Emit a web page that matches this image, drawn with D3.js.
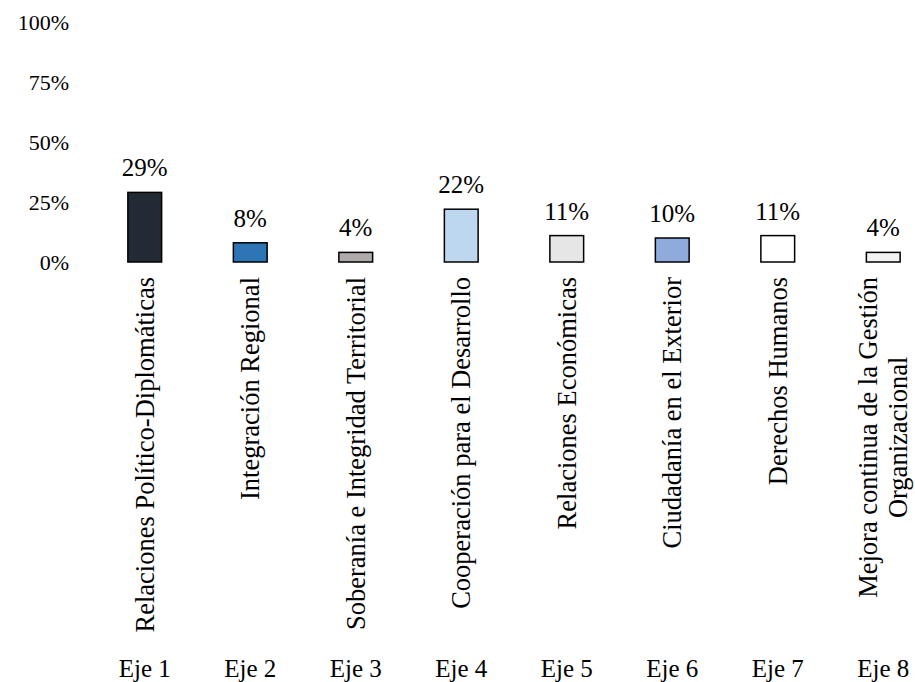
<!DOCTYPE html>
<html>
<head>
<meta charset="utf-8">
<script src="https://cdn.jsdelivr.net/npm/d3@7"></script>
<style>
  body { margin: 0; background: #fff; }
</style>
</head>
<body>
<div class="chart"></div>
<script>
const ejes = ["Eje 1", "Eje 2", "Eje 3", "Eje 4", "Eje 5", "Eje 6", "Eje 7", "Eje 8"];
const nombres = [
  ["Relaciones Político-Diplomáticas"],
  ["Integración Regional"],
  ["Soberanía e Integridad Territorial"],
  ["Cooperación para el Desarrollo"],
  ["Relaciones Económicas"],
  ["Ciudadanía en el Exterior"],
  ["Derechos Humanos"],
  ["Mejora continua de la Gestión", "Organizacional"]
];
const valores = [29, 8, 4, 22, 11, 10, 11, 4];
const colores = ["#222a35", "#2e75b6", "#aeaaaa", "#bdd7ee", "#e7e6e6", "#8faadc", "#ffffff", "#f2f2f2"];
const yTicks = [0, 25, 50, 75, 100];

const w = 915;
const h = 682;
const serif = '"Liberation Serif", "Times New Roman", serif';

const svg = d3.select(".chart")
  .append("svg")
  .attr("width", w)
  .attr("height", h);

const x = d3.scaleBand()
  .domain(ejes)
  .range([92, 936])
  .paddingInner(0.68)
  .paddingOuter(0.34);

const y = d3.scaleLinear()
  .domain([0, 100])
  .range([262, 22]);

// y axis labels, no line
const yAxis = svg.append("g")
  .attr("transform", "translate(69,0)")
  .call(d3.axisLeft(y).tickValues(yTicks).tickFormat(d => d + "%").tickSize(0).tickPadding(0));
yAxis.attr("font-family", null).attr("font-size", null);
yAxis.select(".domain").remove();
yAxis.selectAll("text")
  .style("font-family", serif)
  .style("font-size", "22px")
  .attr("fill", "#000");

// bars
svg.selectAll("rect.bar")
  .data(valores)
  .enter()
  .append("rect")
  .attr("class", "bar")
  .attr("x", (d, i) => x(ejes[i]))
  .attr("y", d => y(d))
  .attr("width", x.bandwidth())
  .attr("height", d => y(0) - y(d))
  .attr("fill", (d, i) => colores[i])
  .attr("stroke", "#000")
  .attr("stroke-width", 1.5);

// value labels
svg.selectAll("text.val")
  .data(valores)
  .enter()
  .append("text")
  .attr("class", "val")
  .attr("x", (d, i) => x(ejes[i]) + x.bandwidth() / 2)
  .attr("y", d => y(d) - 16)
  .attr("text-anchor", "middle")
  .style("font-family", serif)
  .style("font-size", "25px")
  .text(d => d + "%");

// rotated category names, top aligned just under the bars
const topY = 277;
const lineH = 30;
nombres.forEach((lines, i) => {
  const cx = x(ejes[i]) + x.bandwidth() / 2;
  const t = svg.append("text")
    .attr("text-anchor", "middle")
    .style("font-family", serif)
    .style("font-size", "26.5px");
  lines.forEach((ln, j) => {
    t.append("tspan")
      .attr("x", 0)
      .attr("dy", j === 0 ? 0 : lineH)
      .text(ln);
  });
  const maxLen = d3.max(t.selectAll("tspan").nodes(), n => n.getComputedTextLength());
  const off = (lines.length - 1) * lineH / 2;
  t.attr("transform", "translate(" + (cx + 9 - off) + "," + (topY + maxLen / 2) + ") rotate(-90)");
});

// Eje labels at bottom
svg.selectAll("text.eje")
  .data(ejes)
  .enter()
  .append("text")
  .attr("class", "eje")
  .attr("x", d => x(d) + x.bandwidth() / 2)
  .attr("y", 677)
  .attr("text-anchor", "middle")
  .style("font-family", serif)
  .style("font-size", "25px")
  .text(d => d);
</script>
</body>
</html>
